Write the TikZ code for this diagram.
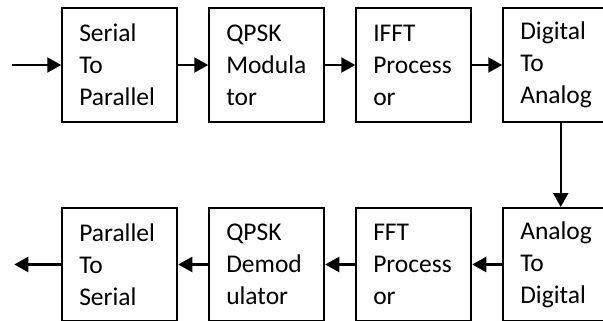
\documentclass[tikz,border=0pt]{standalone}
\usepackage{fontspec}
\setmainfont{Carlito}
\usetikzlibrary{positioning, arrows.meta}

\begin{document}
\begin{tikzpicture}[x=1pt, y=1pt]

\tikzset{block/.style = {shape=rectangle, draw, line width=2pt, minimum width=115pt, minimum height=114pt,
  inner xsep=17pt, inner ysep=0pt, text width=81pt, align=left, font=\fontsize{25.5}{32}\selectfont}}
\tikzset{edge/.style = {line width=2.2pt, -{Triangle[length=14pt, width=15pt]}}}
\path[use as bounding box, clip] (0,0) rectangle (603,-321);
%blocks, top row
\node[block] (sp) at (119.75,-65) {Serial\\To\\Parallel};
\node[block, right=30pt of sp] (mod) {QPSK\\Modula\\tor};
\node[block, right=30pt of mod] (ifft) {IFFT\\Process\\or};
\node[block, right=30pt of ifft] (da) {Digital\\To\\Analog};
%blocks, bottom row
\node[block, below=84pt of da, minimum height=113pt] (ad) {Analog\\To\\Digital};
\node[block, left=30pt of ad, minimum height=113pt] (fft) {FFT\\Process\\or};
\node[block, left=30pt of fft, minimum height=113pt] (demod) {QPSK\\Demod\\ulator};
\node[block, left=30pt of demod, minimum height=113pt] (ps) {Parallel\\To\\Serial};
\coordinate[left=49pt of sp] (in);
\coordinate[left=47pt of ps] (out);
%edges
\draw[edge] (in) -- (sp);
\draw[edge] (sp) -- (mod);
\draw[edge] (mod) -- (ifft);
\draw[edge] (ifft) -- (da);
\draw[edge] (da) -- (ad);
\draw[edge] (ad) -- (fft);
\draw[edge] (fft) -- (demod);
\draw[edge] (demod) -- (ps);
\draw[edge] (ps) -- (out);

\end{tikzpicture}
\end{document}
